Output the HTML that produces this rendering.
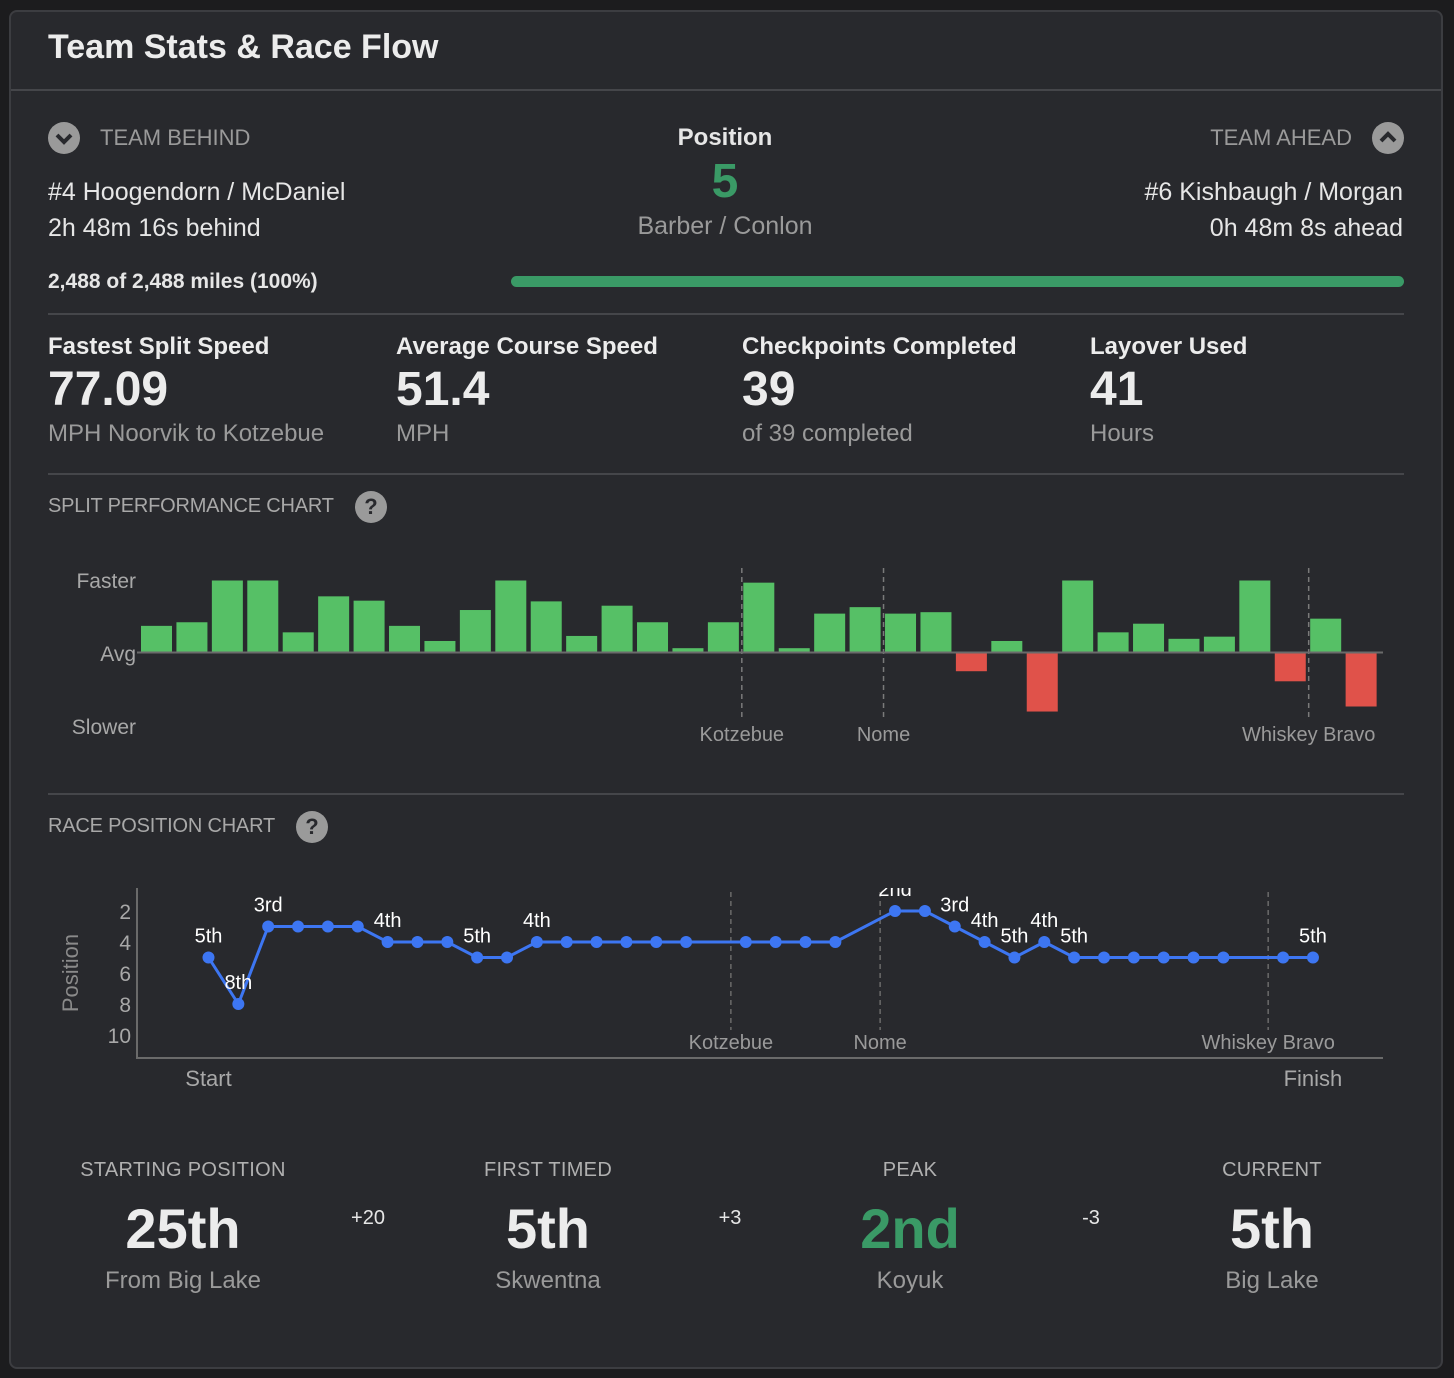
<!DOCTYPE html>
<html><head><meta charset="utf-8"><style>
*{box-sizing:border-box;margin:0;padding:0}
body{width:1454px;height:1378px;background:#1c1c1e;font-family:"Liberation Sans",sans-serif;color:#e6e6e6;position:relative;overflow:hidden}
.panel{position:absolute;left:9px;top:10px;width:1434px;height:1359px;background:#28292d;border:2px solid #3c3d41;border-radius:8px}
.a{position:absolute;white-space:nowrap}
.hr{position:absolute;height:2px;background:#45464a}
.gray{color:#9a9a9a}
.big{font-weight:bold;font-size:48px;color:#ececec}
.lbl{font-weight:bold;font-size:24px;color:#ececec}
.sub{font-size:24px;color:#9a9a9a}
.cap{font-size:20px;letter-spacing:0.3px;color:#b0b0b0}
.icon{position:absolute;width:32px;height:32px;border-radius:50%;background:#9a9a9a;color:#28292d;font-weight:bold;text-align:center;line-height:32px;font-size:22px}
svg text{font-family:"Liberation Sans",sans-serif}
</style></head><body>
<div class="panel"></div>
<div class="a" style="left:48px;top:28px;font-size:34px;font-weight:bold;color:#ececec">Team Stats &amp; Race Flow</div>
<div class="hr" style="left:11px;top:89px;width:1430px"></div>

<div class="icon" style="left:48px;top:122px"><svg width="32" height="32"><path d="M9 13 L16 20 L23 13" stroke="#28292d" stroke-width="4" fill="none"/></svg></div>
<div class="a gray" style="left:100px;top:125px;font-size:22px">TEAM BEHIND</div>
<div class="a" style="left:48px;top:178px;font-size:25px">#4 Hoogendorn / McDaniel</div>
<div class="a" style="left:48px;top:214px;font-size:25px">2h 48m 16s behind</div>

<div class="a" style="left:625px;width:200px;text-align:center;top:124px;font-size:24px;font-weight:bold">Position</div>
<div class="a" style="left:625px;width:200px;text-align:center;top:154px;font-size:48px;font-weight:bold;color:#3a9a66">5</div>
<div class="a gray" style="left:575px;width:300px;text-align:center;top:212px;font-size:25px">Barber / Conlon</div>

<div class="a gray" style="right:102px;top:125px;font-size:22px">TEAM AHEAD</div>
<div class="icon" style="left:1372px;top:122px"><svg width="32" height="32"><path d="M9 19 L16 12 L23 19" stroke="#28292d" stroke-width="4" fill="none"/></svg></div>
<div class="a" style="right:51px;top:178px;font-size:25px">#6 Kishbaugh / Morgan</div>
<div class="a" style="right:51px;top:214px;font-size:25px">0h 48m 8s ahead</div>

<div class="a" style="left:48px;top:270px;font-size:21px;font-weight:bold">2,488 of 2,488 miles (100%)</div>
<div class="a" style="left:511px;top:276px;width:893px;height:11px;border-radius:6px;background:#3a9a66"></div>
<div class="hr" style="left:48px;top:313px;width:1356px"></div>

<div class="a lbl" style="left:48px;top:333px">Fastest Split Speed</div>
<div class="a big" style="left:48px;top:362px">77.09</div>
<div class="a sub" style="left:48px;top:420px">MPH Noorvik to Kotzebue</div>
<div class="a lbl" style="left:396px;top:333px">Average Course Speed</div>
<div class="a big" style="left:396px;top:362px">51.4</div>
<div class="a sub" style="left:396px;top:420px">MPH</div>
<div class="a lbl" style="left:742px;top:333px">Checkpoints Completed</div>
<div class="a big" style="left:742px;top:362px">39</div>
<div class="a sub" style="left:742px;top:420px">of 39 completed</div>
<div class="a lbl" style="left:1090px;top:333px">Layover Used</div>
<div class="a big" style="left:1090px;top:362px">41</div>
<div class="a sub" style="left:1090px;top:420px">Hours</div>
<div class="hr" style="left:48px;top:473px;width:1356px"></div>

<div class="a gray" style="left:48px;top:495px;font-size:20px;letter-spacing:-0.2px;color:#a8a8a8">SPLIT PERFORMANCE CHART</div>
<div class="icon" style="left:355px;top:491px">?</div>
<svg class="a" style="left:0;top:540px" width="1454" height="230" id="splitSvg"></svg>
<div class="hr" style="left:48px;top:793px;width:1356px"></div>

<div class="a gray" style="left:48px;top:815px;font-size:20px;letter-spacing:-0.2px;color:#a8a8a8">RACE POSITION CHART</div>
<div class="icon" style="left:296px;top:811px">?</div>
<svg class="a" style="left:0;top:860px" width="1454" height="240" id="posSvg"></svg>

<div class="a cap" style="left:33px;width:300px;text-align:center;top:1159px">STARTING POSITION</div>
<div class="a big" style="left:33px;width:300px;text-align:center;top:1196px;font-size:56px">25th</div>
<div class="a sub" style="left:33px;width:300px;text-align:center;top:1267px">From Big Lake</div>
<div class="a" style="left:318px;width:100px;text-align:center;top:1207px;font-size:20px">+20</div>
<div class="a cap" style="left:398px;width:300px;text-align:center;top:1159px">FIRST TIMED</div>
<div class="a big" style="left:398px;width:300px;text-align:center;top:1196px;font-size:56px">5th</div>
<div class="a sub" style="left:398px;width:300px;text-align:center;top:1267px">Skwentna</div>
<div class="a" style="left:680px;width:100px;text-align:center;top:1207px;font-size:20px">+3</div>
<div class="a cap" style="left:760px;width:300px;text-align:center;top:1159px">PEAK</div>
<div class="a big" style="left:760px;width:300px;text-align:center;top:1196px;font-size:56px;color:#3a9a66">2nd</div>
<div class="a sub" style="left:760px;width:300px;text-align:center;top:1267px">Koyuk</div>
<div class="a" style="left:1041px;width:100px;text-align:center;top:1207px;font-size:20px">-3</div>
<div class="a cap" style="left:1122px;width:300px;text-align:center;top:1159px">CURRENT</div>
<div class="a big" style="left:1122px;width:300px;text-align:center;top:1196px;font-size:56px">5th</div>
<div class="a sub" style="left:1122px;width:300px;text-align:center;top:1267px">Big Lake</div>

<script>
// ---- split chart data ----
const splitValues = [0.37,0.42,1,1,0.28,0.78,0.72,0.37,0.16,0.59,1,0.71,0.23,0.65,0.42,0.06,0.42,0.97,0.06,0.54,0.63,0.54,0.56,-0.26,0.16,-0.82,1,0.28,0.40,0.19,0.22,1,-0.40,0.47,-0.75];
const splitMarkerIdx = [17,21,33];
const splitMarkerNames = ["Kotzebue","Nome","Whiskey Bravo"];
const splitYLabels = ["Faster","Avg","Slower"];
// ---- position chart data ----
const posSlots = [0,1,2,3,4,5,6,7,8,9,10,11,12,13,14,15,16,18,19,20,21,23,24,25,26,27,28,29,30,31,32,33,34,36,37];
const posValues = [5,8,3,3,3,3,4,4,4,5,5,4,4,4,4,4,4,4,4,4,4,2,2,3,4,5,4,5,5,5,5,5,5,5,5];
const posLabelIdx = [0,1,2,6,9,11,21,23,24,25,26,27,34];
const posTicks = [2,4,6,8,10];
const posMarkerSlots = [17.5,22.5,35.5];
const posMarkerNames = ["Kotzebue","Nome","Whiskey Bravo"];
const NS="http://www.w3.org/2000/svg";
function mk(svg,tag,attrs,text){const e=document.createElementNS(NS,tag);for(const k in attrs)e.setAttribute(k,attrs[k]);if(text!==undefined)e.textContent=text;svg.appendChild(e);return e;}
function ordinal(n){return n+(n==1?"st":n==2?"nd":n==3?"rd":"th");}

(function(){
 const s=document.getElementById('splitSvg');
 const x0=141,step=35.43,bw=31,base=112.5,full=72;
 const xs=i=>x0+step*i;
 const ys=v=>base-v*full;
 splitYLabels.forEach((t,i)=>{const e=mk(s,'text',{x:136,y:48+i*73,'text-anchor':'end','font-size':21,fill:'#a8a8a8'},t);
 
 });
 splitMarkerIdx.forEach((m,i)=>{const x=xs(m)-1.5;
  const l=mk(s,'line',{x1:x,x2:x,y1:28,y2:180,stroke:'#7a7a7a','stroke-dasharray':'5,4','stroke-width':1.5});
  
  
  const t=mk(s,'text',{x:x,y:201,'text-anchor':'middle','font-size':20,fill:'#9a9a9a'},splitMarkerNames[i]);
  
  });
 splitValues.forEach((v,i)=>{const y=Math.min(ys(v),base),h=Math.abs(ys(v)-base);
  const r=mk(s,'rect',{x:xs(i),y:y,width:bw,height:h,fill:v>=0?'#56c066':'#e0524a'});
  
  });
 const b=mk(s,'line',{x1:137,x2:1383,y1:base,y2:base,stroke:'#6a6a6a','stroke-width':2});
 
 
})();

(function(){
 const s=document.getElementById('posSvg');
 const xs=k=>208.5+29.85*k;
 const ys=p=>20+15.5*p;
 mk(s,'defs',{}).innerHTML='<clipPath id="pc"><rect x="137" y="28" width="1260" height="180"/></clipPath>';
 posTicks.forEach(t=>{const e=mk(s,'text',{x:131,y:ys(t)+8,'text-anchor':'end','font-size':21,fill:'#a8a8a8'},t);
  
  });
 const yt=mk(s,'text',{x:0,y:0,transform:'translate(78,113) rotate(-90)','text-anchor':'middle','font-size':22,fill:'#8a8a8a'},'Position');
 
 
 const ax=mk(s,'path',{d:'M137 28 V198 H1383',stroke:'#6a6a6a','stroke-width':2,fill:'none'});
 
 
 posMarkerSlots.forEach((m,i)=>{const x=xs(m);
  const l=mk(s,'line',{x1:x,x2:x,y1:32,y2:170,stroke:'#6a6a6a','stroke-dasharray':'5,4','stroke-width':1.5});
  
  
  const t=mk(s,'text',{x:x,y:189,'text-anchor':'middle','font-size':20,fill:'#9a9a9a'},posMarkerNames[i]);
  
  });
 const g=mk(s,'g',{'clip-path':'url(#pc)'});
 const pts=posSlots.map((k,i)=>xs(k)+','+ys(posValues[i])).join(' ');
 const pl=mk(g,'polyline',{points:pts,fill:'none',stroke:'#3d76f2','stroke-width':3});
 
 
 posSlots.forEach((k,i)=>{const c=mk(g,'circle',{cx:xs(k),cy:ys(posValues[i]),r:6,fill:'#3d76f2'});
  
  });
 posLabelIdx.forEach(i=>{const t=mk(g,'text',{x:xs(posSlots[i]),y:ys(posValues[i])-15,'text-anchor':'middle','font-size':20,fill:'#ffffff'},ordinal(posValues[i]));
  
  });
 const st=mk(s,'text',{x:xs(0),y:226,'text-anchor':'middle','font-size':22,fill:'#a8a8a8'},'Start');
 
 
 const fi=mk(s,'text',{x:xs(37),y:226,'text-anchor':'middle','font-size':22,fill:'#a8a8a8'},'Finish');
 
 
})();
</script>
</body></html>
